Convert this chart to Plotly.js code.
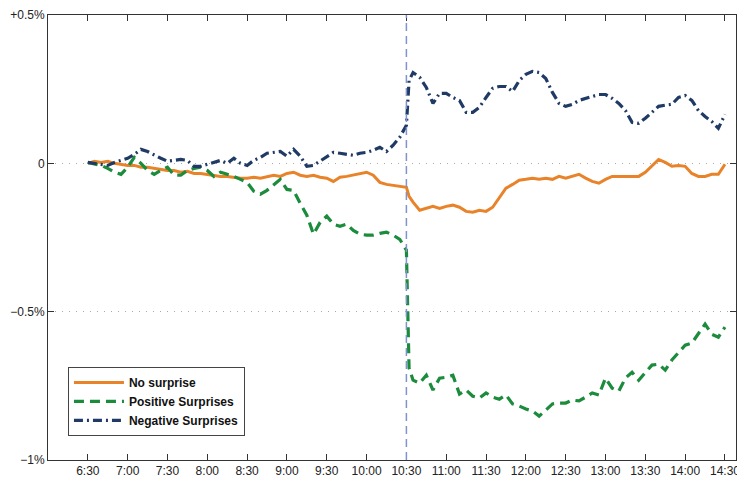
<!DOCTYPE html>
<html>
<head>
<meta charset="utf-8">
<script src="https://cdn.plot.ly/plotly-3.0.1.min.js"></script>
<style>html,body{margin:0;padding:0;background:#fff;}#chart{width:737px;height:477px;}</style>
</head>
<body>
<div id="chart"></div>
<script>
// Time of day (every 5 min, plus one point just after the 10:30 announcement)
const times = ["6:30","6:35","6:40","6:45","6:50","6:55","7:00","7:05","7:10","7:15","7:20","7:25",
"7:30","7:35","7:40","7:45","7:50","7:55","8:00","8:05","8:10","8:15","8:20","8:25",
"8:30","8:35","8:40","8:45","8:50","8:55","9:00","9:05","9:10","9:15","9:20","9:25",
"9:30","9:35","9:40","9:45","9:50","9:55","10:00","10:05","10:10","10:15","10:20","10:25",
"10:30","10:32","10:35","10:40","10:45","10:50","10:55","11:00","11:05","11:10","11:15","11:20","11:25",
"11:30","11:35","11:40","11:45","11:50","11:55","12:00","12:05","12:10","12:15","12:20","12:25",
"12:30","12:35","12:40","12:45","12:50","12:55","13:00","13:05","13:10","13:15","13:20","13:25",
"13:30","13:35","13:40","13:45","13:50","13:55","14:00","14:05","14:10","14:15","14:20","14:25","14:30"];

// Cumulative return, percent
const noSurprise = [0,0.007,0.003,0.007,0,-0.003,-0.007,-0.007,-0.013,-0.013,-0.017,-0.02,
-0.024,-0.024,-0.03,-0.027,-0.034,-0.034,-0.037,-0.04,-0.044,-0.044,-0.047,-0.05,
-0.05,-0.047,-0.05,-0.044,-0.04,-0.044,-0.034,-0.03,-0.04,-0.044,-0.04,-0.047,
-0.05,-0.061,-0.047,-0.044,-0.04,-0.034,-0.03,-0.04,-0.064,-0.071,-0.074,-0.077,
-0.081,-0.111,-0.131,-0.158,-0.152,-0.145,-0.152,-0.145,-0.141,-0.148,-0.162,-0.165,-0.158,
-0.162,-0.148,-0.114,-0.084,-0.071,-0.057,-0.054,-0.05,-0.054,-0.05,-0.054,-0.044,
-0.05,-0.044,-0.037,-0.05,-0.061,-0.067,-0.054,-0.044,-0.044,-0.044,-0.044,-0.044,
-0.03,-0.01,0.013,0.003,-0.01,-0.007,-0.01,-0.034,-0.044,-0.044,-0.037,-0.037,-0.003];

const positiveSurprises = [0.003,-0.003,-0.007,-0.017,-0.03,-0.037,-0.013,0.02,0,-0.024,-0.037,-0.024,
-0.013,-0.04,-0.04,-0.024,-0.017,-0.013,-0.024,-0.044,-0.03,-0.037,-0.044,-0.054,
-0.064,-0.094,-0.104,-0.091,-0.071,-0.054,-0.088,-0.091,-0.135,-0.175,-0.239,-0.199,
-0.178,-0.205,-0.212,-0.205,-0.226,-0.239,-0.242,-0.242,-0.236,-0.232,-0.242,-0.256,
-0.293,-0.69,-0.731,-0.741,-0.714,-0.764,-0.724,-0.721,-0.714,-0.778,-0.764,-0.785,-0.791,
-0.774,-0.788,-0.795,-0.781,-0.811,-0.818,-0.828,-0.835,-0.852,-0.832,-0.811,-0.808,
-0.808,-0.798,-0.801,-0.788,-0.774,-0.781,-0.724,-0.758,-0.768,-0.724,-0.704,-0.731,
-0.704,-0.68,-0.677,-0.697,-0.663,-0.636,-0.613,-0.606,-0.576,-0.542,-0.576,-0.586,-0.552];

const negativeSurprises = [0.003,0,-0.003,-0.007,0.003,0.01,0.017,0.03,0.047,0.04,0.027,0.017,
0.007,0.01,0.013,0.01,-0.01,-0.01,-0.003,0.003,0.01,0,0.017,0,
-0.007,0.01,0.02,0.034,0.037,0.04,0.024,0.047,0.024,-0.01,-0.007,0.007,
0.024,0.037,0.034,0.03,0.027,0.034,0.037,0.044,0.054,0.04,0.061,0.088,
0.128,0.279,0.306,0.29,0.256,0.202,0.236,0.236,0.222,0.212,0.172,0.172,0.189,
0.222,0.253,0.259,0.259,0.242,0.279,0.3,0.31,0.306,0.286,0.239,0.202,
0.192,0.199,0.212,0.219,0.226,0.232,0.232,0.219,0.202,0.178,0.138,0.135,
0.152,0.172,0.192,0.196,0.199,0.222,0.229,0.212,0.178,0.158,0.141,0.118,0.165];

const tickLabels = ["6:30","7:00","7:30","8:00","8:30","9:00","9:30","10:00","10:30",
"11:00","11:30","12:00","12:30","13:00","13:30","14:00","14:30"];
const yTickVals = [-1,-0.5,0,0.5];
const yTickText = ["\u22121%","\u22120.5%","0","+0.5%"];
const announcement = "10:30";
const seriesNames = ["No surprise","Positive Surprises","Negative Surprises"];

function toMin(s){const p=s.split(":");return (+p[0])*60+(+p[1]);}
const x = times.map(toMin);

const FONT = "Liberation Sans, Arial, Helvetica, sans-serif";
const traces = [
  {x:x, y:noSurprise, name:seriesNames[0], type:"scatter", mode:"lines",
   line:{color:"#E8832A", width:3}},
  {x:x, y:positiveSurprises, name:seriesNames[1], type:"scatter", mode:"lines",
   line:{color:"#1B8B3C", width:3.2, dash:"10px,6px"}},
  {x:x, y:negativeSurprises, name:seriesNames[2], type:"scatter", mode:"lines",
   line:{color:"#1F3A64", width:3.2, dash:"9px,4px,2px,4px"}}
];

const layout = {
  width:737, height:477,
  margin:{l:48, r:1, t:15, b:17},
  paper_bgcolor:"#fff", plot_bgcolor:"#fff",
  font:{family:FONT, size:12, color:"#222"},
  showlegend:true,
  legend:{x:0.029, y:0.054, xanchor:"left", yanchor:"bottom",
    bgcolor:"#fff", bordercolor:"#444", borderwidth:1, itemwidth:50,
    font:{family:FONT, size:12, color:"#111", weight:"bold"}},
  xaxis:{range:[360, 878.3], tickvals:tickLabels.map(toMin), ticktext:tickLabels,
    ticks:"inside", ticklen:6, tickcolor:"#333", showgrid:false, zeroline:false,
    showline:true, linecolor:"#333", linewidth:1, mirror:"ticks",
    ticklabeloverflow:"allow",
    tickfont:{family:FONT, size:12, color:"#222"}},
  yaxis:{range:[-1, 0.5], tickvals:yTickVals, ticktext:yTickText,
    ticks:"inside", ticklen:6, tickcolor:"#333", showgrid:true, gridcolor:"#aaa",
    griddash:"1px,6px", gridwidth:1, zeroline:false,
    showline:true, linecolor:"#333", linewidth:1, mirror:"ticks",
    tickfont:{family:FONT, size:12, color:"#222"}},
  shapes:[{type:"line", xref:"x", yref:"paper", x0:toMin(announcement), x1:toMin(announcement),
    y0:0, y1:1, line:{color:"#7F93CC", width:1.5, dash:"8px,5px"}}]
};

Plotly.newPlot("chart", traces, layout, {displayModeBar:false, staticPlot:true});
</script>
</body>
</html>
